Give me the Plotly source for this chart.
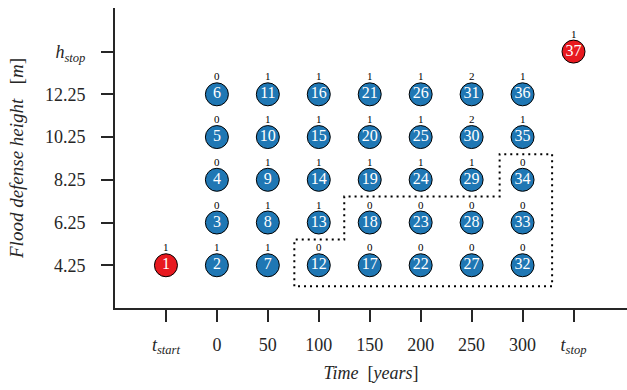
import plotly.graph_objects as go

# Axis categories
time_labels = ["<i>t</i><sub><i>start</i></sub>", "0", "50", "100", "150", "200",
               "250", "300", "<i>t</i><sub><i>stop</i></sub>"]
height_labels = ["4.25", "6.25", "8.25", "10.25", "12.25", "<i>h</i><sub><i>stop</i></sub>"]

# Decision-grid columns (years) and rows (heights)
years = [0, 50, 100, 150, 200, 250, 300]
heights = [4.25, 6.25, 8.25, 10.25, 12.25]

# Number annotated above each grid node, column by column (bottom row first)
grid_counts = [
    [1, 0, 0, 0, 0],   # year 0
    [1, 1, 1, 1, 1],   # year 50
    [0, 1, 1, 1, 1],   # year 100
    [0, 0, 1, 1, 1],   # year 150
    [0, 0, 1, 1, 1],   # year 200
    [0, 0, 1, 2, 2],   # year 250
    [0, 0, 0, 1, 1],   # year 300
]
start_count = 1
stop_count = 1

# Dotted region outline (axis units: column index, row index)
region_x = [2.52, 2.52, 3.50, 3.50, 6.55, 6.55, 7.58, 7.58, 2.52]
region_y = [-0.49, 0.60, 0.60, 1.61, 1.61, 2.60, 2.60, -0.49, -0.49]

BLUE = "#1f77b4"
RED = "#e8191f"
FONT = "Liberation Serif"
INK = "#262626"

# Build node positions from the grid
node_x, node_y, node_id, node_cnt = [], [], [], []
nid = 2
for ci, yr in enumerate(years):
    for ri, h in enumerate(heights):
        node_x.append(ci + 1)
        node_y.append(ri)
        node_id.append(str(nid))
        node_cnt.append(str(grid_counts[ci][ri]))
        nid += 1

end_x = [0, len(time_labels) - 1]
end_y = [0, len(height_labels) - 1]
end_id = ["1", str(nid)]
end_cnt = [str(start_count), str(stop_count)]

fig = go.Figure()

fig.add_trace(go.Scatter(
    x=region_x, y=region_y, mode="lines",
    line=dict(color="black", width=2, dash="2px,4px"),
    hoverinfo="skip", showlegend=False,
))

for xs, ys, ids, col in [(node_x, node_y, node_id, BLUE),
                         (end_x, end_y, end_id, RED)]:
    fig.add_trace(go.Scatter(
        x=xs, y=ys, mode="markers+text", text=ids,
        textposition="middle center",
        textfont=dict(family=FONT, size=16, color="white"),
        marker=dict(size=23, color=col, line=dict(color="black", width=1)),
        showlegend=False,
    ))

# Small counts printed just above every node
for x, y, c in zip(node_x + end_x, node_y + end_y, node_cnt + end_cnt):
    fig.add_annotation(
        x=x, y=y, text=c, showarrow=False, yshift=18,
        xanchor="center", yanchor="middle",
        font=dict(family=FONT, size=11, color="black"),
    )

axis_common = dict(
    showgrid=False, zeroline=False, showline=True, linecolor=INK, linewidth=2,
    ticks="outside", ticklen=12, tickwidth=2, tickcolor=INK,
    tickfont=dict(family=FONT, size=18, color=INK),
)

fig.update_layout(
    width=627, height=390,
    margin=dict(l=115, r=0, t=8, b=82),
    plot_bgcolor="white", paper_bgcolor="white",
    xaxis=dict(
        range=[-1, 9.05], tickmode="array",
        tickvals=list(range(len(time_labels))), ticktext=time_labels,
        title=dict(text="<i>Time</i>\u00a0\u00a0[<i>years</i>]",
                   font=dict(family=FONT, size=18, color=INK), standoff=10),
        ticklabelstandoff=7,
        **axis_common,
    ),
    yaxis=dict(
        range=[-1, 6.02], tickmode="array",
        tickvals=list(range(len(height_labels))), ticktext=height_labels,
        title=dict(text="<i>Flood\u00a0defense\u00a0height</i>\u00a0\u00a0\u00a0[<i>m</i>]",
                   font=dict(family=FONT, size=19, color=INK), standoff=16),
        ticklabelstandoff=12,
        **axis_common,
    ),
)

fig.write_html("out.html")
